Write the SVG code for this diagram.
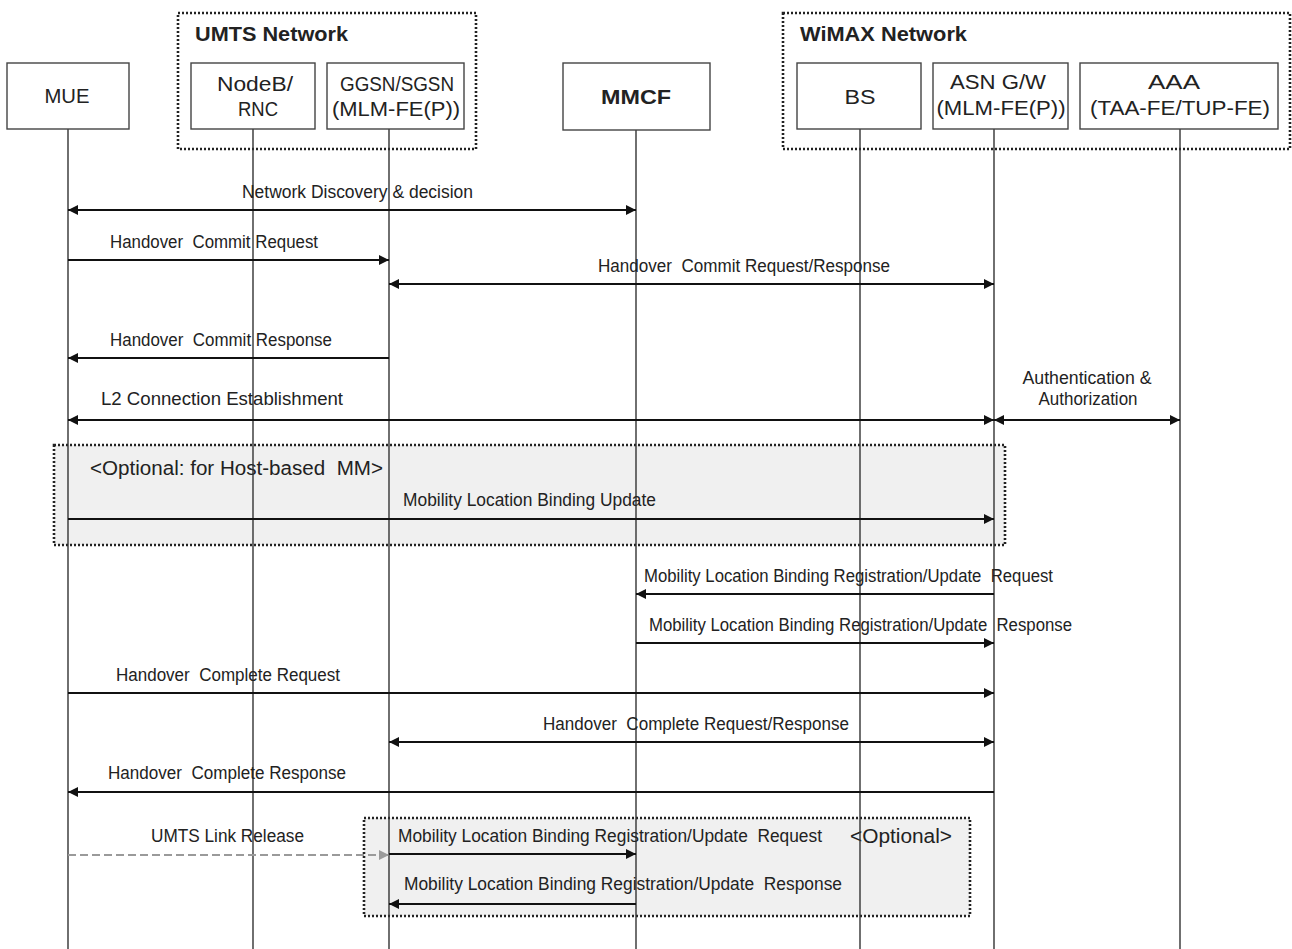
<svg xmlns="http://www.w3.org/2000/svg" width="1292" height="949" viewBox="0 0 1292 949">
  <style>
    text { font-family: "Liberation Sans", Arial, sans-serif; fill: #222; white-space: pre; }
    .hdr { font-size: 20px; }
    .bold { font-weight: bold; }
    .lbl { font-size: 17.5px; }
    .opt { font-size: 19.5px; }
    .node { fill: #fff; stroke: #444; stroke-width: 1.4; }
    .life { stroke: #333; stroke-width: 1.4; fill: none; }
    .grp { fill: none; stroke: #222; stroke-width: 2.6; stroke-dasharray: 2 2; }
    .optbox { fill: #f0f0f0; stroke: #222; stroke-width: 2.6; stroke-dasharray: 2 2; }
    .msg { stroke: #111; stroke-width: 2.2; fill: none; }
    .one { marker-end: url(#ah); }
    .two { marker-start: url(#ah); marker-end: url(#ah); }
    .dash { stroke: #9a9a9a; stroke-width: 2.2; stroke-dasharray: 8 4; fill: none; marker-end: url(#ahg); }
  </style>
  <defs>
    <marker id="ah" viewBox="0 0 10 10" refX="10" refY="5" markerWidth="10" markerHeight="10" markerUnits="userSpaceOnUse" orient="auto-start-reverse">
      <path d="M0,0 L10,5 L0,10 z" fill="#111"/>
    </marker>
    <marker id="ahg" viewBox="0 0 10 10" refX="10" refY="5" markerWidth="10" markerHeight="10" markerUnits="userSpaceOnUse" orient="auto-start-reverse">
      <path d="M0,0 L10,5 L0,10 z" fill="#9a9a9a"/>
    </marker>
  </defs>

  <rect width="1292" height="949" fill="#fff"/>

  <!-- network domains -->
  <g id="umts-network">
    <rect class="grp" x="178" y="13" width="298" height="136"/>
    <text class="hdr bold" x="195" y="41" textLength="153" lengthAdjust="spacingAndGlyphs">UMTS Network</text>
  </g>
  <g id="wimax-network">
    <rect class="grp" x="783" y="13" width="507" height="136"/>
    <text class="hdr bold" x="800" y="41" textLength="167" lengthAdjust="spacingAndGlyphs">WiMAX Network</text>
  </g>

  <!-- optional sections -->
  <g id="optional-host-mm">
    <rect class="optbox" x="54" y="445" width="951" height="100"/>
    <text class="opt" x="90" y="475" textLength="293" lengthAdjust="spacingAndGlyphs">&lt;Optional: for Host-based  MM&gt;</text>
  </g>
  <g id="optional-registration">
    <rect class="optbox" x="364" y="818" width="606" height="98"/>
    <text class="opt" x="850" y="843" textLength="102" lengthAdjust="spacingAndGlyphs">&lt;Optional&gt;</text>
  </g>

  <!-- nodes with lifelines -->
  <g id="mue">
    <line class="life" x1="68" y1="129" x2="68" y2="949"/>
    <rect class="node" x="7" y="63" width="122" height="66"/>
    <text class="hdr" x="67" y="103" text-anchor="middle" textLength="45" lengthAdjust="spacingAndGlyphs">MUE</text>
  </g>
  <g id="nodeb-rnc">
    <line class="life" x1="253" y1="129" x2="253" y2="949"/>
    <rect class="node" x="191" y="63" width="124" height="66"/>
    <text class="hdr" x="255" y="91" text-anchor="middle" textLength="76" lengthAdjust="spacingAndGlyphs">NodeB/</text>
    <text class="hdr" x="258" y="116" text-anchor="middle" textLength="40" lengthAdjust="spacingAndGlyphs">RNC</text>
  </g>
  <g id="ggsn-sgsn">
    <line class="life" x1="389" y1="129" x2="389" y2="949"/>
    <rect class="node" x="327" y="63" width="137" height="66"/>
    <text class="hdr" x="397" y="91" text-anchor="middle" textLength="114" lengthAdjust="spacingAndGlyphs">GGSN/SGSN</text>
    <text class="hdr" x="396" y="116" text-anchor="middle" textLength="128" lengthAdjust="spacingAndGlyphs">(MLM-FE(P))</text>
  </g>
  <g id="mmcf">
    <line class="life" x1="636" y1="130" x2="636" y2="949"/>
    <rect class="node" x="563" y="63" width="147" height="67"/>
    <text class="hdr bold" x="636" y="104" text-anchor="middle" textLength="70" lengthAdjust="spacingAndGlyphs">MMCF</text>
  </g>
  <g id="bs">
    <line class="life" x1="860" y1="129" x2="860" y2="949"/>
    <rect class="node" x="797" y="63" width="124" height="66"/>
    <text class="hdr" x="860" y="104" text-anchor="middle" textLength="31" lengthAdjust="spacingAndGlyphs">BS</text>
  </g>
  <g id="asn-gw">
    <line class="life" x1="994" y1="129" x2="994" y2="949"/>
    <rect class="node" x="933" y="63" width="135" height="66"/>
    <text class="hdr" x="998" y="89" text-anchor="middle" textLength="96" lengthAdjust="spacingAndGlyphs">ASN G/W</text>
    <text class="hdr" x="1001" y="115" text-anchor="middle" textLength="129" lengthAdjust="spacingAndGlyphs">(MLM-FE(P))</text>
  </g>
  <g id="aaa">
    <line class="life" x1="1180" y1="129" x2="1180" y2="949"/>
    <rect class="node" x="1080" y="63" width="198" height="66"/>
    <text class="hdr" x="1174" y="89" text-anchor="middle" textLength="52" lengthAdjust="spacingAndGlyphs">AAA</text>
    <text class="hdr" x="1180" y="115" text-anchor="middle" textLength="180" lengthAdjust="spacingAndGlyphs">(TAA-FE/TUP-FE)</text>
  </g>

  <!-- messages -->
  <g id="connectors">
    <line class="msg two" x1="68" y1="210" x2="636" y2="210"/>
    <line class="msg one" x1="68" y1="260" x2="389" y2="260"/>
    <line class="msg two" x1="389" y1="284" x2="994" y2="284"/>
    <line class="msg one" x1="389" y1="358" x2="68" y2="358"/>
    <line class="msg two" x1="68" y1="420" x2="994" y2="420"/>
    <line class="msg two" x1="994" y1="420" x2="1180" y2="420"/>
    <line class="msg one" x1="68" y1="519" x2="994" y2="519"/>
    <line class="msg one" x1="994" y1="594" x2="636" y2="594"/>
    <line class="msg one" x1="636" y1="643" x2="994" y2="643"/>
    <line class="msg one" x1="68" y1="693" x2="994" y2="693"/>
    <line class="msg two" x1="389" y1="742" x2="994" y2="742"/>
    <line class="msg one" x1="994" y1="792" x2="68" y2="792"/>
    <line class="dash" x1="68" y1="855" x2="389" y2="855"/>
    <line class="msg one" x1="389" y1="854" x2="636" y2="854"/>
    <line class="msg one" x1="636" y1="904" x2="389" y2="904"/>
  </g>

  <!-- message labels -->
  <g id="labels">
    <text class="lbl" x="242" y="198" textLength="231" lengthAdjust="spacingAndGlyphs">Network Discovery &amp; decision</text>
    <text class="lbl" x="110" y="248" textLength="208" lengthAdjust="spacingAndGlyphs">Handover  Commit Request</text>
    <text class="lbl" x="598" y="272" textLength="292" lengthAdjust="spacingAndGlyphs">Handover  Commit Request/Response</text>
    <text class="lbl" x="110" y="346" textLength="222" lengthAdjust="spacingAndGlyphs">Handover  Commit Response</text>
    <text class="lbl" x="101" y="405" textLength="242" lengthAdjust="spacingAndGlyphs">L2 Connection Establishment</text>
    <text class="lbl" x="1087" y="384" text-anchor="middle" textLength="129" lengthAdjust="spacingAndGlyphs">Authentication &amp;</text>
    <text class="lbl" x="1088" y="405" text-anchor="middle" textLength="99" lengthAdjust="spacingAndGlyphs">Authorization</text>
    <text class="lbl" x="403" y="506" textLength="253" lengthAdjust="spacingAndGlyphs">Mobility Location Binding Update</text>
    <text class="lbl" x="644" y="582" textLength="409" lengthAdjust="spacingAndGlyphs">Mobility Location Binding Registration/Update  Request</text>
    <text class="lbl" x="649" y="631" textLength="423" lengthAdjust="spacingAndGlyphs">Mobility Location Binding Registration/Update  Response</text>
    <text class="lbl" x="116" y="681" textLength="224" lengthAdjust="spacingAndGlyphs">Handover  Complete Request</text>
    <text class="lbl" x="543" y="730" textLength="306" lengthAdjust="spacingAndGlyphs">Handover  Complete Request/Response</text>
    <text class="lbl" x="108" y="779" textLength="238" lengthAdjust="spacingAndGlyphs">Handover  Complete Response</text>
    <text class="lbl" x="151" y="842" textLength="153" lengthAdjust="spacingAndGlyphs">UMTS Link Release</text>
    <text class="lbl" x="398" y="842" textLength="424" lengthAdjust="spacingAndGlyphs">Mobility Location Binding Registration/Update  Request</text>
    <text class="lbl" x="404" y="890" textLength="438" lengthAdjust="spacingAndGlyphs">Mobility Location Binding Registration/Update  Response</text>
  </g>
</svg>
